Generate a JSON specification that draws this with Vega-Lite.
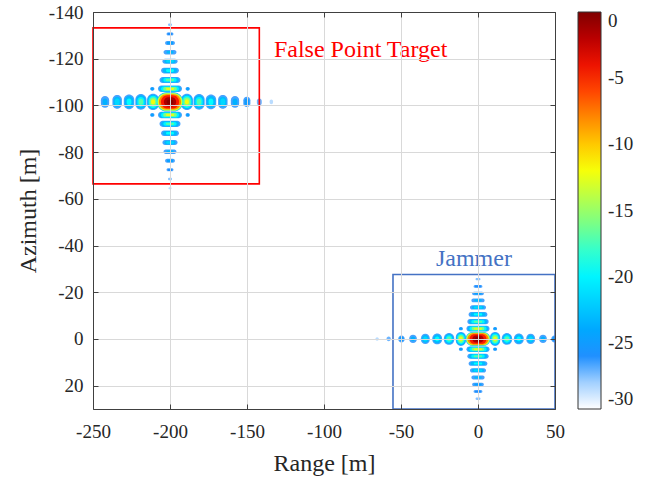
{
 "$schema": "https://vega.github.io/schema/vega-lite/v6.json",
 "width": 462, "height": 397,
 "autosize": {"type": "none"},
 "padding": {"left": 93, "top": 12, "right": 99, "bottom": 71},
 "background": "white",
 "config": {"font": "Liberation Serif", "view": {"stroke": null}},
 "resolve": {"axis": {"x": "independent", "y": "independent"}},
 "layer": [
  {
   "data": {"values": [
    {"r0":-208.5,"r1":-191.5,"a0":-105.6,"a1":-97.4,"db":-26},
    {"r0":-208.3,"r1":-191.7,"a0":-105.4,"a1":-97.6,"db":-18},
    {"r0":-208.0,"r1":-192.0,"a0":-105.2,"a1":-97.8,"db":-13},
    {"r0":-207.2,"r1":-192.8,"a0":-104.8,"a1":-98.2,"db":-8},
    {"r0":-205.9,"r1":-194.1,"a0":-104.3,"a1":-98.7,"db":-4.5},
    {"r0":-204.0,"r1":-196.0,"a0":-103.45,"a1":-99.55,"db":-1.5},
    {"r0":-202.2,"r1":-197.8,"a0":-102.5,"a1":-100.5,"db":-0.3},

    {"r0":-192.9,"r1":-185.1,"a0":-104.95,"a1":-98.05,"db":-26.5},
    {"r0":-192.5,"r1":-185.5,"a0":-104.58,"a1":-98.42,"db":-23},
    {"r0":-191.95,"r1":-186.05,"a0":-104.11,"a1":-98.89,"db":-20},
    {"r0":-191.3,"r1":-186.7,"a0":-103.52,"a1":-99.48,"db":-16},
    {"r0":-190.3,"r1":-187.7,"a0":-102.66,"a1":-100.34,"db":-12},
    {"r0":-214.9,"r1":-207.1,"a0":-104.95,"a1":-98.05,"db":-26.5},
    {"r0":-214.5,"r1":-207.5,"a0":-104.58,"a1":-98.42,"db":-23},
    {"r0":-213.95,"r1":-208.05,"a0":-104.11,"a1":-98.89,"db":-20},
    {"r0":-213.3,"r1":-208.7,"a0":-103.52,"a1":-99.48,"db":-16},
    {"r0":-212.3,"r1":-209.7,"a0":-102.66,"a1":-100.34,"db":-12},
    {"r0":-184.73,"r1":-177.47,"a0":-104.84,"a1":-98.16,"db":-26.5},
    {"r0":-184.18,"r1":-178.02,"a0":-104.33,"a1":-98.67,"db":-23},
    {"r0":-183.4,"r1":-178.8,"a0":-103.6,"a1":-99.4,"db":-20},
    {"r0":-182.55,"r1":-179.65,"a0":-102.83,"a1":-100.17,"db":-17},
    {"r0":-222.53,"r1":-215.27,"a0":-104.84,"a1":-98.16,"db":-26.5},
    {"r0":-221.98,"r1":-215.82,"a0":-104.33,"a1":-98.67,"db":-23},
    {"r0":-221.2,"r1":-216.6,"a0":-103.6,"a1":-99.4,"db":-20},
    {"r0":-220.35,"r1":-217.45,"a0":-102.83,"a1":-100.17,"db":-17},
    {"r0":-176.81,"r1":-169.99,"a0":-104.66,"a1":-98.34,"db":-26.5},
    {"r0":-176.15,"r1":-170.65,"a0":-104.05,"a1":-98.95,"db":-23},
    {"r0":-174.93,"r1":-171.87,"a0":-102.91,"a1":-100.09,"db":-19.5},
    {"r0":-230.01,"r1":-223.19,"a0":-104.66,"a1":-98.34,"db":-26.5},
    {"r0":-229.35,"r1":-223.85,"a0":-104.05,"a1":-98.95,"db":-23},
    {"r0":-228.13,"r1":-225.07,"a0":-102.91,"a1":-100.09,"db":-19.5},
    {"r0":-168.78,"r1":-162.62,"a0":-104.43,"a1":-98.57,"db":-26.5},
    {"r0":-168.01,"r1":-163.39,"a0":-103.7,"a1":-99.3,"db":-23},
    {"r0":-167.24,"r1":-164.16,"a0":-102.97,"a1":-100.03,"db":-21.5},
    {"r0":-237.38,"r1":-231.22,"a0":-104.43,"a1":-98.57,"db":-26.5},
    {"r0":-236.61,"r1":-231.99,"a0":-103.7,"a1":-99.3,"db":-23},
    {"r0":-235.84,"r1":-232.76,"a0":-102.97,"a1":-100.03,"db":-21.5},
    {"r0":-160.5,"r1":-155.1,"a0":-104.03,"a1":-98.97,"db":-26.5},
    {"r0":-159.35,"r1":-156.25,"a0":-102.96,"a1":-100.04,"db":-23.5},
    {"r0":-244.9,"r1":-239.5,"a0":-104.03,"a1":-98.97,"db":-26.5},
    {"r0":-243.75,"r1":-240.65,"a0":-102.96,"a1":-100.04,"db":-23.5},
    {"r0":-152.4,"r1":-147.8,"a0":-103.69,"a1":-99.31,"db":-26.5},
    {"r0":-151.64,"r1":-148.56,"a0":-102.96,"a1":-100.04,"db":-25},
    {"r0":-143.6,"r1":-140.4,"a0":-103.0,"a1":-100.0,"db":-27},
    {"r0":-135.3,"r1":-133.1,"a0":-102.5,"a1":-100.5,"db":-28.5},

    {"r0":-207.8,"r1":-192.2,"a0":-108.5,"a1":-105.7,"db":-26.5},
    {"r0":-206.95,"r1":-193.05,"a0":-108.35,"a1":-105.85,"db":-23},
    {"r0":-205.83,"r1":-194.17,"a0":-108.15,"a1":-106.05,"db":-20},
    {"r0":-204.44,"r1":-195.56,"a0":-107.9,"a1":-106.3,"db":-16},
    {"r0":-202.68,"r1":-197.32,"a0":-107.58,"a1":-106.62,"db":-12.5},
    {"r0":-207.8,"r1":-192.2,"a0":-97.3,"a1":-94.5,"db":-26.5},
    {"r0":-206.95,"r1":-193.05,"a0":-97.15,"a1":-94.65,"db":-23},
    {"r0":-205.83,"r1":-194.17,"a0":-96.95,"a1":-94.85,"db":-20},
    {"r0":-204.44,"r1":-195.56,"a0":-96.7,"a1":-95.1,"db":-16},
    {"r0":-202.68,"r1":-197.32,"a0":-96.38,"a1":-95.42,"db":-12.5},
    {"r0":-206.8,"r1":-193.2,"a0":-112.2,"a1":-109.6,"db":-26.5},
    {"r0":-205.77,"r1":-194.23,"a0":-112.0,"a1":-109.8,"db":-23},
    {"r0":-204.3,"r1":-195.7,"a0":-111.72,"a1":-110.08,"db":-20},
    {"r0":-202.72,"r1":-197.28,"a0":-111.42,"a1":-110.38,"db":-17},
    {"r0":-206.8,"r1":-193.2,"a0":-93.4,"a1":-90.8,"db":-26.5},
    {"r0":-205.77,"r1":-194.23,"a0":-93.2,"a1":-91.0,"db":-23},
    {"r0":-204.3,"r1":-195.7,"a0":-92.92,"a1":-91.28,"db":-20},
    {"r0":-202.72,"r1":-197.28,"a0":-92.62,"a1":-91.58,"db":-17},
    {"r0":-205.8,"r1":-194.2,"a0":-116.1,"a1":-113.7,"db":-26.5},
    {"r0":-204.67,"r1":-195.33,"a0":-115.87,"a1":-113.93,"db":-23},
    {"r0":-202.59,"r1":-197.41,"a0":-115.44,"a1":-114.36,"db":-19.5},
    {"r0":-205.8,"r1":-194.2,"a0":-89.3,"a1":-86.9,"db":-26.5},
    {"r0":-204.67,"r1":-195.33,"a0":-89.07,"a1":-87.13,"db":-23},
    {"r0":-202.59,"r1":-197.41,"a0":-88.64,"a1":-87.56,"db":-19.5},
    {"r0":-204.9,"r1":-195.1,"a0":-119.97,"a1":-117.83,"db":-26.5},
    {"r0":-203.68,"r1":-196.32,"a0":-119.7,"a1":-118.1,"db":-23},
    {"r0":-202.45,"r1":-197.55,"a0":-119.44,"a1":-118.36,"db":-21.5},
    {"r0":-204.9,"r1":-195.1,"a0":-85.17,"a1":-83.03,"db":-26.5},
    {"r0":-203.68,"r1":-196.32,"a0":-84.9,"a1":-83.3,"db":-23},
    {"r0":-202.45,"r1":-197.55,"a0":-84.64,"a1":-83.56,"db":-21.5},
    {"r0":-204.2,"r1":-195.8,"a0":-123.76,"a1":-121.84,"db":-26.5},
    {"r0":-202.33,"r1":-197.67,"a0":-123.33,"a1":-122.27,"db":-23},
    {"r0":-204.2,"r1":-195.8,"a0":-81.16,"a1":-79.24,"db":-26.5},
    {"r0":-202.33,"r1":-197.67,"a0":-80.73,"a1":-79.67,"db":-23},
    {"r0":-203.2,"r1":-196.8,"a0":-127.56,"a1":-125.84,"db":-26.5},
    {"r0":-202.02,"r1":-197.98,"a0":-127.24,"a1":-126.16,"db":-24.5},
    {"r0":-203.2,"r1":-196.8,"a0":-77.16,"a1":-75.44,"db":-26.5},
    {"r0":-202.02,"r1":-197.98,"a0":-76.84,"a1":-75.76,"db":-24.5},
    {"r0":-202.3,"r1":-197.7,"a0":-131.24,"a1":-129.96,"db":-27},
    {"r0":-201.74,"r1":-198.26,"a0":-131.08,"a1":-130.12,"db":-26},
    {"r0":-202.3,"r1":-197.7,"a0":-73.04,"a1":-71.76,"db":-27},
    {"r0":-201.74,"r1":-198.26,"a0":-72.88,"a1":-71.92,"db":-26},
    {"r0":-201.3,"r1":-198.7,"a0":-135.03,"a1":-133.97,"db":-27.5},
    {"r0":-201.3,"r1":-198.7,"a0":-69.03,"a1":-67.97,"db":-27.5},
    {"r0":-201.0,"r1":-199.0,"a0":-64.93,"a1":-64.07,"db":-28.5},

    {"r0":-212.9,"r1":-210.1,"a0":-107.9,"a1":-106.3,"db":-26.5},
    {"r0":-212.5,"r1":-210.5,"a0":-107.67,"a1":-106.53,"db":-24.5},
    {"r0":-189.9,"r1":-187.1,"a0":-107.9,"a1":-106.3,"db":-26.5},
    {"r0":-189.5,"r1":-187.5,"a0":-107.67,"a1":-106.53,"db":-24.5},
    {"r0":-212.9,"r1":-210.1,"a0":-96.7,"a1":-95.1,"db":-26.5},
    {"r0":-212.5,"r1":-210.5,"a0":-96.47,"a1":-95.33,"db":-24.5},
    {"r0":-189.9,"r1":-187.1,"a0":-96.7,"a1":-95.1,"db":-26.5},
    {"r0":-189.5,"r1":-187.5,"a0":-96.47,"a1":-95.33,"db":-24.5},

    {"r0":-8.0,"r1":8.0,"a0":-3.0,"a1":3.0,"db":-26},
    {"r0":-7.8,"r1":7.8,"a0":-2.85,"a1":2.85,"db":-18},
    {"r0":-7.5,"r1":7.5,"a0":-2.7,"a1":2.7,"db":-13},
    {"r0":-6.8,"r1":6.8,"a0":-2.45,"a1":2.45,"db":-8},
    {"r0":-5.5,"r1":5.5,"a0":-2.05,"a1":2.05,"db":-4.5},
    {"r0":-3.7,"r1":3.7,"a0":-1.5,"a1":1.5,"db":-1.5},
    {"r0":-2.0,"r1":2.0,"a0":-0.8,"a1":0.8,"db":-0.3},

    {"r0":7.8,"r1":14.4,"a0":-2.99,"a1":2.99,"db":-26.5},
    {"r0":8.16,"r1":14.04,"a0":-2.67,"a1":2.67,"db":-23},
    {"r0":8.63,"r1":13.57,"a0":-2.23,"a1":2.23,"db":-20},
    {"r0":9.22,"r1":12.98,"a0":-1.7,"a1":1.7,"db":-16},
    {"r0":9.97,"r1":12.23,"a0":-1.02,"a1":1.02,"db":-12.5},
    {"r0":-14.4,"r1":-7.8,"a0":-2.99,"a1":2.99,"db":-26.5},
    {"r0":-14.04,"r1":-8.16,"a0":-2.67,"a1":2.67,"db":-23},
    {"r0":-13.57,"r1":-8.63,"a0":-2.23,"a1":2.23,"db":-20},
    {"r0":-12.98,"r1":-9.22,"a0":-1.7,"a1":1.7,"db":-16},
    {"r0":-12.23,"r1":-9.97,"a0":-1.02,"a1":1.02,"db":-12.5},
    {"r0":15.45,"r1":22.15,"a0":-2.53,"a1":2.53,"db":-26.5},
    {"r0":15.96,"r1":21.64,"a0":-2.15,"a1":2.15,"db":-23},
    {"r0":16.68,"r1":20.92,"a0":-1.6,"a1":1.6,"db":-20},
    {"r0":17.46,"r1":20.14,"a0":-1.01,"a1":1.01,"db":-17},
    {"r0":-22.15,"r1":-15.45,"a0":-2.53,"a1":2.53,"db":-26.5},
    {"r0":-21.64,"r1":-15.96,"a0":-2.15,"a1":2.15,"db":-23},
    {"r0":-20.92,"r1":-16.68,"a0":-1.6,"a1":1.6,"db":-20},
    {"r0":-20.14,"r1":-17.46,"a0":-1.01,"a1":1.01,"db":-17},
    {"r0":23.31,"r1":29.69,"a0":-2.3,"a1":2.3,"db":-26.5},
    {"r0":23.93,"r1":29.07,"a0":-1.85,"a1":1.85,"db":-23},
    {"r0":25.07,"r1":27.93,"a0":-1.02,"a1":1.02,"db":-19.5},
    {"r0":-29.69,"r1":-23.31,"a0":-2.3,"a1":2.3,"db":-26.5},
    {"r0":-29.07,"r1":-23.93,"a0":-1.85,"a1":1.85,"db":-23},
    {"r0":-27.93,"r1":-25.07,"a0":-1.02,"a1":1.02,"db":-19.5},
    {"r0":31.34,"r1":37.06,"a0":-2.19,"a1":2.19,"db":-26.5},
    {"r0":32.05,"r1":36.35,"a0":-1.64,"a1":1.64,"db":-23},
    {"r0":32.76,"r1":35.64,"a0":-1.09,"a1":1.09,"db":-21.5},
    {"r0":-37.06,"r1":-31.34,"a0":-2.19,"a1":2.19,"db":-26.5},
    {"r0":-36.35,"r1":-32.05,"a0":-1.64,"a1":1.64,"db":-23},
    {"r0":-35.64,"r1":-32.76,"a0":-1.09,"a1":1.09,"db":-21.5},
    {"r0":39.72,"r1":44.68,"a0":-1.78,"a1":1.78,"db":-26.5},
    {"r0":40.76,"r1":43.64,"a0":-1.02,"a1":1.02,"db":-23.5},
    {"r0":-44.68,"r1":-39.72,"a0":-1.78,"a1":1.78,"db":-26.5},
    {"r0":-43.64,"r1":-40.76,"a0":-1.02,"a1":1.02,"db":-23.5},
    {"r0":47.6,"r1":51.8,"a0":-1.5,"a1":1.5,"db":-26.5},
    {"r0":48.3,"r1":51.1,"a0":-1.0,"a1":1.0,"db":-25},
    {"r0":-51.8,"r1":-47.6,"a0":-1.5,"a1":1.5,"db":-26.5},
    {"r0":-51.1,"r1":-48.3,"a0":-1.0,"a1":1.0,"db":-25},
    {"r0":-59.4,"r1":-56.6,"a0":-1.0,"a1":1.0,"db":-27},
    {"r0":-66.6,"r1":-64.4,"a0":-0.75,"a1":0.75,"db":-28.5},

    {"r0":-7.5,"r1":7.5,"a0":-5.6,"a1":-3.2,"db":-26.5},
    {"r0":-6.66,"r1":6.66,"a0":-5.47,"a1":-3.33,"db":-23},
    {"r0":-5.54,"r1":5.54,"a0":-5.29,"a1":-3.51,"db":-20},
    {"r0":-4.13,"r1":4.13,"a0":-5.06,"a1":-3.74,"db":-16},
    {"r0":-2.61,"r1":2.61,"a0":-4.82,"a1":-3.98,"db":-13},
    {"r0":-7.5,"r1":7.5,"a0":3.2,"a1":5.6,"db":-26.5},
    {"r0":-6.66,"r1":6.66,"a0":3.33,"a1":5.47,"db":-23},
    {"r0":-5.54,"r1":5.54,"a0":3.51,"a1":5.29,"db":-20},
    {"r0":-4.13,"r1":4.13,"a0":3.74,"a1":5.06,"db":-16},
    {"r0":-2.61,"r1":2.61,"a0":3.98,"a1":4.82,"db":-13},
    {"r0":-6.9,"r1":6.9,"a0":-8.5,"a1":-6.3,"db":-26.5},
    {"r0":-5.86,"r1":5.86,"a0":-8.33,"a1":-6.47,"db":-23},
    {"r0":-4.36,"r1":4.36,"a0":-8.1,"a1":-6.7,"db":-20},
    {"r0":-2.76,"r1":2.76,"a0":-7.84,"a1":-6.96,"db":-17},
    {"r0":-6.9,"r1":6.9,"a0":6.3,"a1":8.5,"db":-26.5},
    {"r0":-5.86,"r1":5.86,"a0":6.47,"a1":8.33,"db":-23},
    {"r0":-4.36,"r1":4.36,"a0":6.7,"a1":8.1,"db":-20},
    {"r0":-2.76,"r1":2.76,"a0":6.96,"a1":7.84,"db":-17},
    {"r0":-6.1,"r1":6.1,"a0":-11.5,"a1":-9.5,"db":-26.5},
    {"r0":-4.92,"r1":4.92,"a0":-11.31,"a1":-9.69,"db":-23},
    {"r0":-2.73,"r1":2.73,"a0":-10.95,"a1":-10.05,"db":-19.5},
    {"r0":-6.1,"r1":6.1,"a0":9.5,"a1":11.5,"db":-26.5},
    {"r0":-4.92,"r1":4.92,"a0":9.69,"a1":11.31,"db":-23},
    {"r0":-2.73,"r1":2.73,"a0":10.05,"a1":10.95,"db":-19.5},
    {"r0":-5.2,"r1":5.2,"a0":-14.42,"a1":-12.58,"db":-26.5},
    {"r0":-3.9,"r1":3.9,"a0":-14.19,"a1":-12.81,"db":-23},
    {"r0":-2.6,"r1":2.6,"a0":-13.96,"a1":-13.04,"db":-21.5},
    {"r0":-5.2,"r1":5.2,"a0":12.58,"a1":14.42,"db":-26.5},
    {"r0":-3.9,"r1":3.9,"a0":12.81,"a1":14.19,"db":-23},
    {"r0":-2.6,"r1":2.6,"a0":13.04,"a1":13.96,"db":-21.5},
    {"r0":-4.3,"r1":4.3,"a0":-17.33,"a1":-15.67,"db":-26.5},
    {"r0":-2.39,"r1":2.39,"a0":-16.96,"a1":-16.04,"db":-23},
    {"r0":-4.3,"r1":4.3,"a0":15.67,"a1":17.33,"db":-26.5},
    {"r0":-2.39,"r1":2.39,"a0":16.04,"a1":16.96,"db":-23},
    {"r0":-3.8,"r1":3.8,"a0":-20.24,"a1":-18.76,"db":-26.5},
    {"r0":-2.4,"r1":2.4,"a0":-19.97,"a1":-19.03,"db":-24.5},
    {"r0":-3.8,"r1":3.8,"a0":18.76,"a1":20.24,"db":-26.5},
    {"r0":-2.4,"r1":2.4,"a0":19.03,"a1":19.97,"db":-24.5},
    {"r0":-2.9,"r1":2.9,"a0":-23.12,"a1":-21.88,"db":-27},
    {"r0":-2.19,"r1":2.19,"a0":-22.97,"a1":-22.03,"db":-26},
    {"r0":-2.9,"r1":2.9,"a0":21.88,"a1":23.12,"db":-27},
    {"r0":-2.19,"r1":2.19,"a0":22.03,"a1":22.97,"db":-26},
    {"r0":-1.6,"r1":1.6,"a0":-26.1,"a1":-25.1,"db":-27.5},
    {"r0":-1.6,"r1":1.6,"a0":25.1,"a1":26.1,"db":-27.5},

    {"r0":-12.4,"r1":-9.8,"a0":-5.1,"a1":-3.7,"db":-26.5},
    {"r0":-12.02,"r1":-10.18,"a0":-4.9,"a1":-3.9,"db":-24.5},
    {"r0":9.8,"r1":12.4,"a0":-5.1,"a1":-3.7,"db":-26.5},
    {"r0":10.18,"r1":12.02,"a0":-4.9,"a1":-3.9,"db":-24.5},
    {"r0":-12.4,"r1":-9.8,"a0":3.7,"a1":5.1,"db":-26.5},
    {"r0":-12.02,"r1":-10.18,"a0":3.9,"a1":4.9,"db":-24.5},
    {"r0":9.8,"r1":12.4,"a0":3.7,"a1":5.1,"db":-26.5},
    {"r0":10.18,"r1":12.02,"a0":3.9,"a1":4.9,"db":-24.5}
   ]},
   "mark": {"type": "rect", "cornerRadius": 40, "clip": true},
   "encoding": {
    "x": {"field": "r0", "type": "quantitative",
     "scale": {"domain": [-250, 50], "nice": false, "zero": false},
     "axis": {"orient": "bottom", "values": [-250,-200,-150,-100,-50,0,50], "title": "Range [m]",
      "grid": true, "gridColor": "#d9d9d9", "gridWidth": 1,
      "domainColor": "#404040", "tickColor": "#404040", "tickSize": -5,
      "labelPadding": 18, "labelFont": "Liberation Serif", "labelFontSize": 19, "labelColor": "#262626",
      "labelExpr": "'' + datum.value", "labelFlush": false, "labelOverlap": false,
      "titleFont": "Liberation Serif", "titleFontSize": 24, "titleFontWeight": "normal", "titleColor": "#262626",
      "titleBaseline": "alphabetic", "titleY": 61, "zindex": 1}},
    "x2": {"field": "r1"},
    "y": {"field": "a0", "type": "quantitative",
     "scale": {"domain": [-140, 30], "reverse": true, "nice": false, "zero": false},
     "axis": {"orient": "left", "values": [-140,-120,-100,-80,-60,-40,-20,0,20], "title": "Azimuth [m]",
      "grid": true, "gridColor": "#d9d9d9", "gridWidth": 1,
      "domainColor": "#404040", "tickColor": "#404040", "tickSize": -5,
      "labelPadding": 15, "labelFont": "Liberation Serif", "labelFontSize": 19, "labelColor": "#262626",
      "labelExpr": "'' + datum.value", "labelFlush": false, "labelOverlap": false,
      "titleFont": "Liberation Serif", "titleFontSize": 24, "titleFontWeight": "normal", "titleColor": "#262626",
      "titleBaseline": "alphabetic", "titleX": -58, "zindex": 1}},
    "y2": {"field": "a1"},
    "color": {"field": "db", "type": "quantitative",
     "scale": {"domain": [-30,-29,-28,-27,-26,-24,-19.5,-15.8,-11.7,-8.7,-4.7,-2.2,0],
      "range": ["#ffffff","#d2e8ff","#a2d0ff","#6cb4ff","#2090ff","#00a8ff","#00ffff","#80ff80","#ffff00","#ffa000","#ff1a00","#c00000","#800000"],
      "interpolate": "rgb", "clamp": true},
     "legend": {"orient": "none", "legendX": 485, "legendY": 0, "direction": "vertical", "title": null,
      "gradientLength": 397, "gradientThickness": 23, "gradientStrokeColor": "#333333", "gradientStrokeWidth": 1,
      "values": [0,-5,-10,-15,-20,-25,-30], "labelFont": "Liberation Serif", "labelFontSize": 19,
      "labelColor": "#262626", "labelOffset": 7, "labelBaseline": "middle", "labelOverlap": false,
      "labelExpr": "'' + datum.value"}},
    "order": {"field": "db", "type": "quantitative", "sort": "ascending"}
   }
  },
  {
   "data": {"values": [
    {"name": "false", "r0": -250, "r1": -142, "a0": -133.2, "a1": -66.4},
    {"name": "jammer", "r0": -55.2, "r1": 50, "a0": -27.6, "a1": 30}
   ]},
   "mark": {"type": "rect", "fillOpacity": 0, "strokeWidth": 1.6},
   "encoding": {
    "x": {"field": "r0", "type": "quantitative",
     "axis": {"orient": "top", "values": [-250,-200,-150,-100,-50,0,50], "labels": false, "title": null, "grid": false,
      "domainColor": "#404040", "tickColor": "#404040", "tickSize": -5, "zindex": 1}},
    "x2": {"field": "r1"},
    "y": {"field": "a0", "type": "quantitative",
     "axis": {"orient": "right", "values": [-140,-120,-100,-80,-60,-40,-20,0,20], "labels": false, "title": null, "grid": false,
      "domainColor": "#404040", "tickColor": "#404040", "tickSize": -5, "zindex": 1}},
    "y2": {"field": "a1"},
    "stroke": {"field": "name", "type": "nominal",
     "scale": {"domain": ["false", "jammer"], "range": ["#ff0000", "#4472c4"]}, "legend": null}
   }
  },
  {
   "data": {"values": [
    {"label": "False Point Target", "r": -132.5, "a": -120.7},
    {"label": "Jammer", "r": -27.3, "a": -31.4}
   ]},
   "mark": {"type": "text", "align": "left", "baseline": "alphabetic", "fontSize": 24, "font": "Liberation Serif"},
   "encoding": {
    "x": {"field": "r", "type": "quantitative", "axis": null},
    "y": {"field": "a", "type": "quantitative", "axis": null},
    "text": {"field": "label"},
    "fill": {"field": "label", "type": "nominal",
     "scale": {"domain": ["False Point Target", "Jammer"], "range": ["#ff0000", "#4472c4"]}, "legend": null}
   }
  }
 ]
}
